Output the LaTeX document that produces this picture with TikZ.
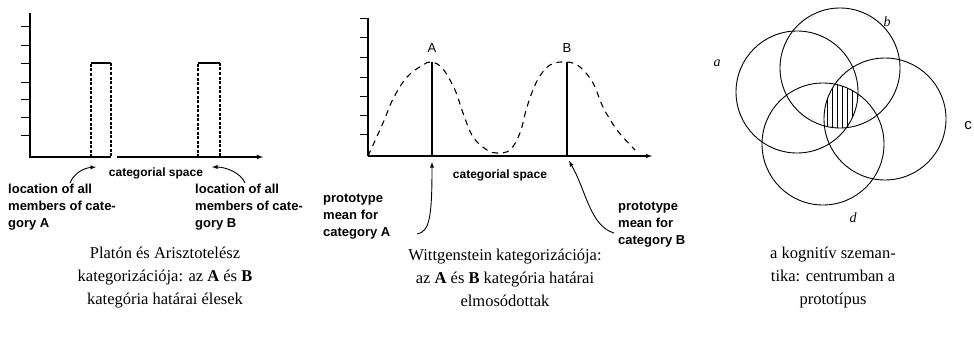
\documentclass[tikz,border=0pt]{standalone}
\usepackage{fontspec}
\setmainfont{Liberation Serif}
\newfontfamily\lblfont{Liberation Sans}
\usetikzlibrary{positioning}
\usetikzlibrary{calc}

\tikzset{
  axis/.style={line width=1.1pt},
  tck/.style={line width=0.8pt},
  curve/.style={line width=1.1pt, dash pattern=on 6pt off 5pt},
  edge/.style={line width=1.1pt, dash pattern=on 3pt off 1.5pt},
  pointer/.style={-latex, line width=0.9pt},
  lbl/.style={font=\lblfont\bfseries\fontsize{13}{17}\selectfont, align=left, inner sep=0pt, anchor=north west},
  axlbl/.style={font=\lblfont\bfseries\fontsize{12}{12}\selectfont, inner sep=0pt},
  peak/.style={font=\lblfont\fontsize{13}{13}\selectfont, inner sep=0pt},
  caption/.style={font=\fontsize{16.5}{23}\selectfont, align=center, inner sep=0pt},
  ring/.style={line width=0.9pt},
  circname/.style={font=\fontsize{14}{14}\selectfont\itshape, inner sep=0pt},
}

\begin{document}
\begin{tikzpicture}[x=1pt, y=-1pt]
    \useasboundingbox (0,0) rectangle (974,337);

    % sharp categories
    \coordinate (top1) at (30,13);
    \coordinate (o1) at (30,157);
    \coordinate (gap1) at (111,157);
    \coordinate (gap2) at (117,157);
    \coordinate (end1) at (263,157);
    \draw[axis] (top1) -- (o1) -- (gap1);
    \draw[axis, -latex] (gap2) -- (end1);
    \foreach \y in {26,45,63,82,99,117,135}
        \draw[tck] (21,\y) -- (30,\y);

    \draw[edge] (91,157) -- (91,63);
    \draw[axis] (91,63) -- (111,63);
    \draw[edge] (111,63) -- (111,157);
    \draw[edge] (198,157) -- (198,63);
    \draw[axis] (198,63) -- (220,63);
    \draw[edge] (220,63) -- (220,157);

    \node[axlbl] (space1) at (156,173) {categorial space};
    \node[lbl] (locA) at (8,184) {location of all\\members of cate-\\gory A};
    \node[lbl] (locB) at (195,184) {location of all\\members of cate-\\gory B};

    \coordinate (a1s) at (70,183);
    \coordinate (a1e) at (96,167);
    \coordinate (b1s) at (245,183);
    \coordinate (b1e) at (212,167);
    \draw[pointer] (a1s) .. controls (74,173) and (84,168) .. (a1e);
    \draw[pointer] (b1s) .. controls (241,173) and (226,167) .. (b1e);

    % fuzzy categories
    \coordinate (top2) at (368,18);
    \coordinate (o2) at (368,156);
    \coordinate (end2) at (652,156);
    \draw[axis] (top2) -- (o2);
    \draw[axis, -latex] (o2) -- (end2);
    \foreach \y in {18,37,57,77,96,115,134}
        \draw[tck] (360,\y) -- (368,\y);

    \coordinate (pA) at (432,62);
    \coordinate (bA) at (432,156);
    \coordinate (pB) at (567,62);
    \coordinate (bB) at (567,156);
    \draw[axis] (pA) -- (bA);
    \draw[axis] (pB) -- (bB);
    \node[peak, above=9pt of pA] (lA) {A};
    \node[peak, above=9pt of pB] (lB) {B};

    \draw[curve] plot[smooth, tension=0.6] coordinates {
        (368,156) (383,123) (393,99) (407,77) (423,65) (432,62)
        (443,69) (455,90) (463,113) (473,137) (487,150) (497,153)
        (510,150) (520,133) (527,107) (537,81) (550,65) (567,62)
        (580,67) (593,83) (603,107) (617,130) (635,150)};

    \node[axlbl] (space2) at (500,175) {categorial space};
    \node[lbl] (protA) at (323,194) {prototype\\mean for\\category A};
    \node[lbl] (protB) at (618,202) {prototype\\mean for\\category B};

    \coordinate (a2s) at (417,234);
    \coordinate (a2e) at (432,162);
    \coordinate (b2s) at (614,233);
    \coordinate (b2e) at (569,161);
    \draw[pointer] (a2s) .. controls (430,232) and (432,215) .. (a2e);
    \draw[pointer] (b2s) .. controls (590,226) and (586,190) .. (b2e);

    % prototype circles
    \coordinate (ca) at (797,92);
    \coordinate (cb) at (840,68);
    \coordinate (cc) at (885,119);
    \coordinate (cd) at (823,144);
    \begin{scope}
        \clip (ca) circle (61);
        \clip (cb) circle (60);
        \clip (cc) circle (61);
        \clip (cd) circle (61);
        \foreach \x in {822,827,...,862}
            \draw[line width=0.6pt] (\x,75) -- (\x,145);
    \end{scope}
    \draw[ring] (ca) circle (61);
    \draw[ring] (cb) circle (60);
    \draw[ring] (cc) circle (61);
    \draw[ring] (cd) circle (61);
    \node[circname] (na) at (717,63) {a};
    \node[circname] (nb) at (887,22) {b};
    \node[font=\lblfont\fontsize{15}{15}\selectfont, inner sep=0pt] (nc) at (968,126) {c};
    \node[circname] (nd) at (853,218) {d};

    % captions
    \node[caption] (cap1) at (165,278) {Platón és Arisztotelész\\kategorizációja: az \textbf{A} és \textbf{B}\\kategória határai élesek};
    \node[caption] (cap2) at (505,278) {Wittgenstein kategorizációja:\\az \textbf{A} és \textbf{B} kategória határai\\elmosódottak};
    \node[caption] (cap3) at (833,278) {a kognitív szeman-\\tika: centrumban a\\prototípus};
\end{tikzpicture}
\end{document}
